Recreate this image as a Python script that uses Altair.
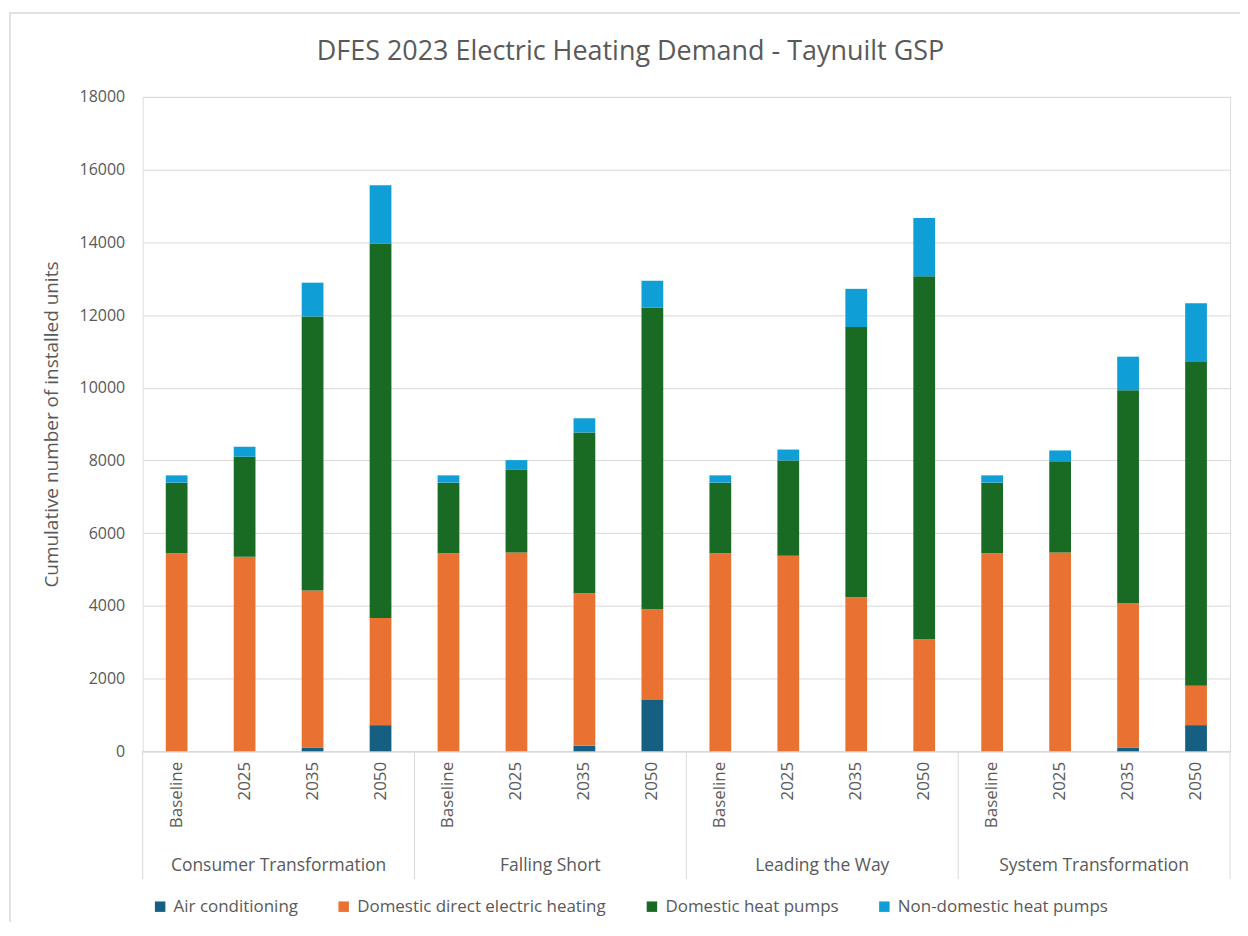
import altair as alt
import pandas as pd

title_text = "DFES 2023 Electric Heating Demand - Taynuilt GSP"
scenarios = ["Consumer Transformation", "Falling Short", "Leading the Way", "System Transformation"]
years = ["Baseline", "2025", "2035", "2050"]
series = ["Air conditioning", "Domestic direct electric heating", "Domestic heat pumps", "Non-domestic heat pumps"]
colors = ["#156082", "#E97132", "#196B24", "#0F9ED5"]

air_conditioning = [0, 0, 100, 720, 0, 0, 150, 1410, 0, 0, 0, 0, 0, 0, 100, 720]
direct_electric = [5450, 5350, 4320, 2950, 5450, 5470, 4200, 2500, 5450, 5380, 4240, 3080, 5450, 5470, 3970, 1080]
domestic_hp = [1940, 2750, 7540, 10300, 1940, 2270, 4420, 8290, 1940, 2620, 7430, 9990, 1940, 2510, 5860, 8910]
non_domestic_hp = [200, 275, 930, 1600, 200, 270, 390, 740, 200, 300, 1050, 1600, 200, 295, 925, 1615]

values_by_series = [air_conditioning, direct_electric, domestic_hp, non_domestic_hp]

keys = [f"{s}|{y}" for s in scenarios for y in years]
rows = []
for si, (name, vals) in enumerate(zip(series, values_by_series)):
    for k, v in zip(keys, vals):
        rows.append({"key": k, "series": name, "order": si, "value": v})
df = pd.DataFrame(rows)

FONT = "Open Sans"
GREY = "#595959"
LINE = "#d9d9d9"
W, H = 1090, 656
STEP = W / len(keys)

bars = alt.Chart(df).mark_bar().encode(
    x=alt.X("key:N", sort=keys,
            scale=alt.Scale(domain=keys, paddingInner=0.68, paddingOuter=0.34),
            axis=alt.Axis(title=None, labelAngle=-90, labelExpr="split(datum.value, '|')[1]",
                          labelPadding=10, ticks=False, domainColor=LINE, labelFontSize=17,
                          labelFont=FONT, labelColor=GREY, grid=False)),
    y=alt.Y("value:Q", stack="zero",
            scale=alt.Scale(domain=[0, 18000], nice=False),
            axis=alt.Axis(title="Cumulative number of installed units", values=list(range(0, 18001, 2000)),
                          format="d", domain=False, ticks=False, gridColor=LINE, labelPadding=18,
                          labelFontSize=16, labelFont=FONT, labelColor=GREY,
                          titleFont=FONT, titleFontSize=19, titleColor=GREY, titleFontWeight="normal",
                          titlePadding=18)),
    color=alt.Color("series:N", scale=alt.Scale(domain=series, range=colors),
                    legend=alt.Legend(title=None, orient="none", legendX=9, legendY=803,
                                      direction="horizontal", symbolType="square", symbolSize=110,
                                      symbolStrokeWidth=0, labelFont=FONT, labelFontSize=17,
                                      labelColor=GREY, columnPadding=37, labelOffset=5, labelLimit=0)),
    order=alt.Order("order:Q", sort="ascending"),
)

grp = pd.DataFrame({"key": [f"{s}|Baseline" for s in scenarios],
                    "mid": [f"{s}|2025" for s in scenarios],
                    "label": scenarios})
xs_plain = alt.Scale(domain=keys, paddingInner=0, paddingOuter=0)

sep_left = alt.Chart(grp).mark_rule(color=LINE, strokeWidth=1).encode(
    x=alt.X("key:N", scale=xs_plain, axis=None, bandPosition=0),
    y=alt.value(H), y2=alt.value(784))
sep_right = alt.Chart(pd.DataFrame({"key": [keys[-1]]})).mark_rule(color=LINE, strokeWidth=1).encode(
    x=alt.X("key:N", scale=xs_plain, axis=None, bandPosition=1),
    y=alt.value(H), y2=alt.value(784))
grp_text = alt.Chart(grp).mark_text(font=FONT, fontSize=17.5, color=GREY, baseline="middle", align="center",
                                    dx=STEP / 2).encode(
    x=alt.X("mid:N", scale=xs_plain, axis=None),
    y=alt.value(771), text="label:N")

title = alt.Chart(pd.DataFrame({"t": [title_text]})).mark_text(
    font=FONT, fontSize=27, color=GREY, align="center", baseline="alphabetic").encode(
    x=alt.value(489), y=alt.value(-37), text="t:N")

border = alt.Chart(pd.DataFrame({"a": [0]})).mark_rect(fill=None, stroke=LINE, strokeWidth=1.5).encode(
    x=alt.value(-133), x2=alt.value(W + 40), y=alt.value(-84), y2=alt.value(H + 200))

chart = alt.layer(border, title, bars, sep_left, sep_right, grp_text).resolve_scale(x="independent").properties(
    width=W, height=H,
    autosize=alt.AutoSizeParams(type="none"),
    padding={"left": 135, "top": 88, "right": 10, "bottom": 170},
).configure_view(stroke=None).configure(background="white")

chart.save("out.html", embed_options={"renderer": "svg", "actions": False})
